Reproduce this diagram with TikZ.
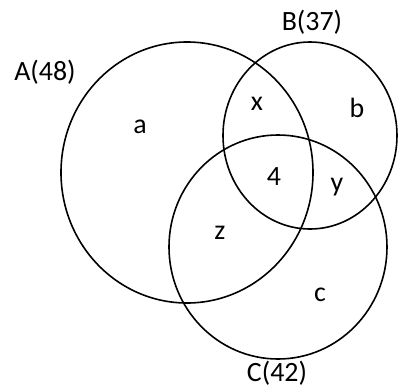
\documentclass[tikz,border=0pt]{standalone}
\usepackage{fontspec}
\setmainfont{Carlito}
\usetikzlibrary{shapes.geometric}
\begin{document}
\begin{tikzpicture}[x=1bp,y=-1bp,
  setc/.style={draw=black, line width=1.6bp, ellipse, inner sep=0pt},
  lbl/.style={font=\fontsize{28}{32}\selectfont, inner sep=0pt}]
\useasboundingbox (0,0) rectangle (398,387);
\node[setc, minimum width=252bp, minimum height=261bp] (A) at (187,172.5) {};
\node[setc, minimum width=174bp, minimum height=187bp] (B) at (310,135.5) {};
\node[setc, minimum width=218bp, minimum height=224bp] (C) at (278,247) {};
\node[lbl] (lA) at (45,72) {A(48)};
\node[lbl] (lB) at (312,22) {B(37)};
\node[lbl] (lC) at (277,373) {C(42)};
\node[lbl] (a) at (140,127) {a};
\node[lbl] (x) at (257,104) {x};
\node[lbl] (b) at (357,108) {b};
\node[lbl] (n4) at (274,177) {4};
\node[lbl] (y) at (337,187) {y};
\node[lbl] (z) at (220,233) {z};
\node[lbl] (c) at (320,295) {c};
\end{tikzpicture}
\end{document}
